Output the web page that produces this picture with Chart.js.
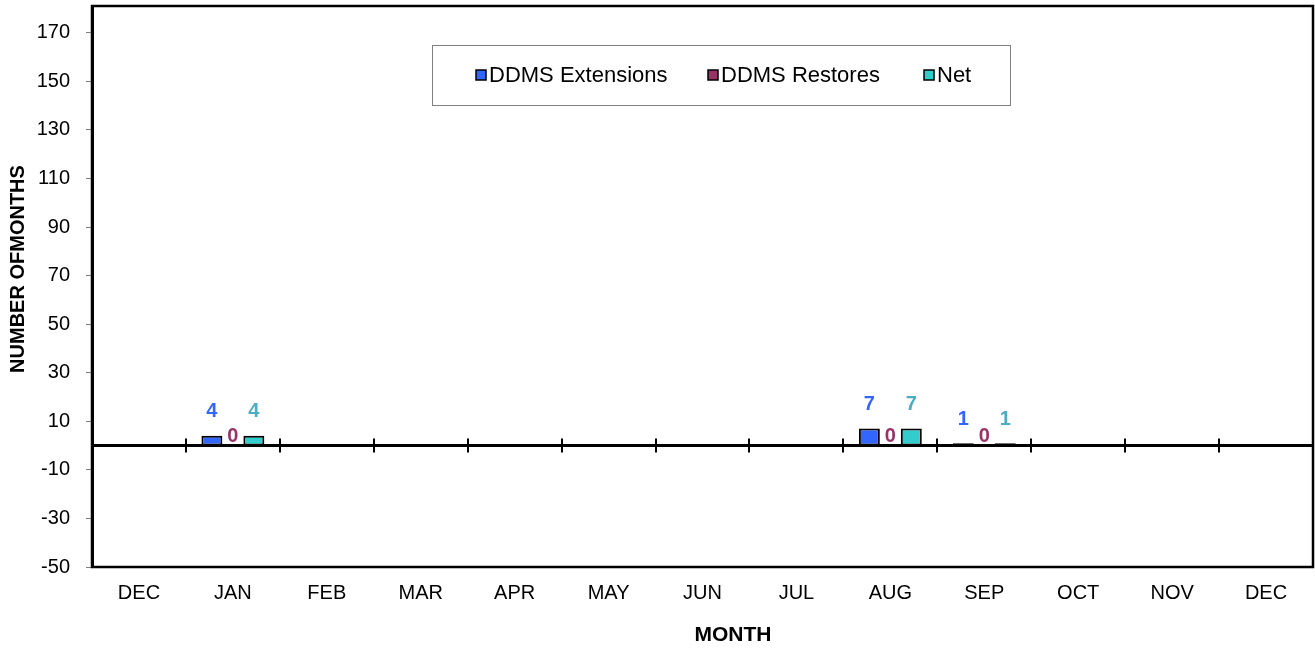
<!DOCTYPE html>
<html><head><meta charset="utf-8">
<script src="https://cdn.jsdelivr.net/npm/chart.js@4/dist/chart.umd.min.js"></script>
<style>html,body{margin:0;padding:0;background:#fff}#wrap{width:1315px;height:650px;position:relative}</style>
</head><body><div id="wrap"><canvas id="c" width="1315" height="650"></canvas></div>
<script>
const months = ['DEC','JAN','FEB','MAR','APR','MAY','JUN','JUL','AUG','SEP','OCT','NOV','DEC'];
const extensions = [null,4,null,null,null,null,null,null,7,1,null,null,null];
const restores   = [null,0,null,null,null,null,null,null,0,0,null,null,null];
const netValues  = [null,4,null,null,null,null,null,null,7,1,null,null,null];
const yTicks = [-50,-30,-10,10,30,50,70,90,110,130,150,170];
const seriesNames = ['DDMS Extensions','DDMS Restores','Net'];
const xTitle = 'MONTH';
const yTitle = 'NUMBER OFMONTHS';
const barColors = ['#3366FF','#993366','#33CCCC'];
const labelColors = ['#3366FF','#993366','#4BACC6'];
const FONT = '"Liberation Sans", Arial, sans-serif';

const overlay = {
  id: 'overlay',
  afterDatasetsDraw(chart) {
    const ctx = chart.ctx, a = chart.chartArea;
    const x = chart.scales.x, y = chart.scales.y;
    const zy = y.getPixelForValue(0);
    ctx.save();
    ctx.strokeStyle = '#000'; ctx.lineWidth = 3;
    ctx.beginPath(); ctx.moveTo(a.left, zy); ctx.lineTo(a.right, zy); ctx.stroke();
    ctx.lineWidth = 2;
    for (let i = 0; i < months.length - 1; i++) {
      const bx = Math.round((x.getPixelForValue(i) + x.getPixelForValue(i + 1)) / 2);
      ctx.beginPath(); ctx.moveTo(bx, zy - 7); ctx.lineTo(bx, zy + 7); ctx.stroke();
    }
    ctx.lineWidth = 2.5;
    ctx.strokeRect(a.left, a.top, a.right - a.left, a.bottom - a.top);
    ctx.font = 'bold 20px ' + FONT;
    ctx.textAlign = 'center'; ctx.textBaseline = 'middle';
    chart.data.datasets.forEach((ds, di) => {
      const meta = chart.getDatasetMeta(di);
      meta.data.forEach((el, i) => {
        const v = ds.data[i];
        if (v === null || v === undefined) return;
        ctx.fillStyle = labelColors[di];
        const ly = v > 0 ? el.y - 24 : zy - 9;
        ctx.fillText(String(v), el.x, ly);
      });
    });
    ctx.restore();
  },
  afterDraw(chart) {
    const ctx = chart.ctx;
    ctx.save();
    // axis titles
    ctx.fillStyle = '#000';
    ctx.font = 'bold 21px ' + FONT;
    ctx.textAlign = 'center'; ctx.textBaseline = 'middle';
    ctx.fillText(xTitle, 733, 635);
    ctx.save();
    ctx.translate(18, 269); ctx.rotate(-Math.PI / 2);
    ctx.font = 'bold 20px ' + FONT;
    ctx.fillText(yTitle, 0, 0);
    ctx.restore();
    // legend
    const bx = 432, by = 45, bw = 578, bh = 60;
    ctx.fillStyle = '#fff'; ctx.fillRect(bx, by, bw, bh);
    ctx.strokeStyle = '#808080'; ctx.lineWidth = 1;
    ctx.strokeRect(bx + 0.5, by + 0.5, bw, bh);
    const itemX = [476, 708, 924];
    ctx.font = '22px ' + FONT; ctx.textBaseline = 'middle'; ctx.textAlign = 'left';
    chart.data.datasets.forEach((ds, di) => {
      const mx = itemX[di], cy = 75;
      ctx.fillStyle = ds.backgroundColor;
      ctx.fillRect(mx, cy - 5, 10, 10);
      ctx.strokeStyle = '#000'; ctx.lineWidth = 1.5;
      ctx.strokeRect(mx, cy - 5, 10, 10);
      ctx.fillStyle = '#000';
      ctx.fillText(ds.label, mx + 13, cy + 1);
    });
    ctx.restore();
  }
};

new Chart(document.getElementById('c'), {
  type: 'bar',
  data: {
    labels: months,
    datasets: [extensions, restores, netValues].map((d, i) => ({
      label: seriesNames[i],
      data: d,
      backgroundColor: barColors[i],
      borderColor: '#000',
      borderWidth: 2,
      borderSkipped: false,
      categoryPercentage: 0.67,
      barPercentage: 1.0
    }))
  },
  options: {
    responsive: false,
    animation: false,
    layout: { padding: { left: 7, right: 2, top: 6, bottom: 4 } },
    plugins: { legend: { display: false }, tooltip: { enabled: false } },
    scales: {
      x: {
        grid: { display: false, drawTicks: false },
        border: { display: false },
        ticks: { color: '#000', font: { family: FONT, size: 20 }, padding: 14, maxRotation: 0, autoSkip: false },
        afterFit(s) { s.height = 79; s.paddingLeft = 0; s.paddingRight = 0; }
      },
      y: {
        min: -50, max: 181,
        afterBuildTicks(s) { s.ticks = yTicks.map(v => ({ value: v })); },
        grid: { drawOnChartArea: false, tickLength: 6, color: '#808080', tickColor: '#808080' },
        border: { display: true, color: '#000', width: 3 },
        ticks: { color: '#000', font: { family: FONT, size: 20 }, padding: 16 },
        afterFit(s) { s.width = 85; s.paddingTop = 0; s.paddingBottom = 0; }
      }
    }
  },
  plugins: [overlay]
});
</script>
</body></html>
